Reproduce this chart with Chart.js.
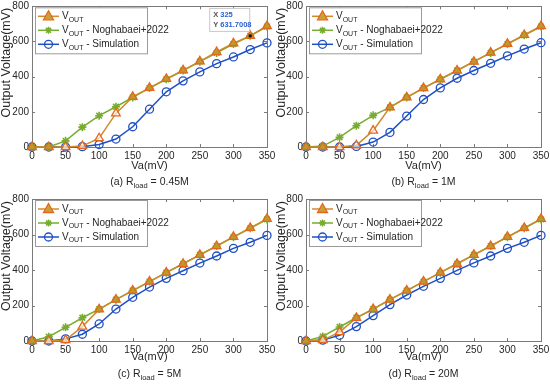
<!DOCTYPE html>
<html>
<head>
<meta charset="utf-8">
<script src="https://cdn.jsdelivr.net/npm/chart.js@4.4.1/dist/chart.umd.min.js"></script>
<style>
  body { margin: 0; background: #fff; }
  #wrap { position: relative; width: 550px; height: 385px; overflow: hidden; }
  canvas { position: absolute; }
</style>
</head>
<body>
<div id="wrap">
  <canvas id="pa" width="275" height="190" style="left:0;top:0"></canvas>
  <canvas id="pb" width="275" height="190" style="left:275px;top:0"></canvas>
  <canvas id="pc" width="275" height="195" style="left:0;top:190px"></canvas>
  <canvas id="pd" width="275" height="195" style="left:275px;top:190px"></canvas>
</div>
<script>
// input voltage Va (mV), shared by all four panels
const va = [0, 25, 50, 75, 100, 125, 150, 175, 200, 225, 250, 275, 300, 325, 350];
const xTicks = [0, 50, 100, 150, 200, 250, 300, 350];
const yTicks = [0, 200, 400, 600, 800];

// (a) Rload = 0.45M
const voutA = [0, 0, 0, 5, 50, 191, 285, 336, 387, 436, 487, 540, 590, 631.7008, 688];
const nogA  = [0, 0, 35, 113, 178, 229, 282, 335, 385, 435, 485, 535, 585, 632, 685];
const simA  = [0, 0, 0, 2, 14, 45, 115, 215, 314, 376, 427, 474, 512, 554, 592];
// (b) Rload = 1M
const voutB = [0, 0, 0, 10, 93, 225, 282, 335, 385, 435, 485, 537, 587, 637, 688];
const nogB  = [0, 5, 55, 121, 180, 225, 282, 335, 385, 435, 485, 535, 585, 635, 685];
const simB  = [0, 0, 0, 3, 28, 83, 176, 270, 336, 391, 435, 476, 518, 557, 593];
// (c) Rload = 5M
const voutC = [0, 0, 5, 81, 178, 233, 284, 335, 385, 435, 485, 535, 587, 637, 688];
const nogC  = [0, 24, 77, 131, 180, 233, 284, 335, 385, 435, 485, 535, 585, 635, 685];
const simC  = [0, 0, 12, 38, 96, 180, 246, 304, 353, 396, 439, 479, 522, 556, 595];
// (d) Rload = 20M
const voutD = [0, 5, 50, 130, 180, 233, 284, 335, 385, 435, 485, 535, 587, 637, 688];
const nogD  = [0, 26, 79, 131, 180, 233, 284, 335, 385, 435, 485, 535, 585, 635, 685];
const simD  = [0, 5, 32, 81, 143, 205, 259, 308, 353, 398, 440, 479, 522, 556, 595];

const FONT = "'Liberation Sans', Arial, sans-serif";
const TXT = '#262626';
const C_VOUT = '#d08a2c', C_TRI = '#e3671c';
const C_NOG = '#77ac30';
const C_SIM = '#1f4fc4';

function pts(ys) { return va.map((x, i) => ({ x: x, y: ys[i] })); }

function drawMarker(ctx, kind, x, y, fill) {
  ctx.save();
  ctx.lineWidth = 1.3;
  if (kind === 'tri') {
    ctx.beginPath();
    ctx.moveTo(x, y - 5.5); ctx.lineTo(x + 5, y + 3.5); ctx.lineTo(x - 5, y + 3.5); ctx.closePath();
    if (fill) { ctx.fillStyle = fill; ctx.fill(); }
    ctx.strokeStyle = C_TRI; ctx.stroke();
  } else if (kind === 'star') {
    ctx.strokeStyle = C_NOG; ctx.lineWidth = 1.6;
    ctx.beginPath();
    for (let k = 0; k < 4; k++) {
      const a = k * Math.PI / 4;
      ctx.moveTo(x - 3.5 * Math.cos(a), y - 3.5 * Math.sin(a));
      ctx.lineTo(x + 3.5 * Math.cos(a), y + 3.5 * Math.sin(a));
    }
    ctx.stroke();
  } else {
    ctx.strokeStyle = C_SIM;
    ctx.beginPath(); ctx.arc(x, y, 4, 0, Math.PI * 2); ctx.stroke();
  }
  ctx.restore();
}

// text with a subscript part: parts = [[text, isSub], ...]
function subWidth(ctx, parts) {
  let w = 0;
  parts.forEach(p => { ctx.font = (p[1] ? '7.5px ' : '10.5px ') + FONT; w += ctx.measureText(p[0]).width; });
  return w;
}
function drawSub(ctx, parts, x, y) {
  ctx.textAlign = 'left'; ctx.textBaseline = 'middle';
  parts.forEach(p => {
    ctx.font = (p[1] ? '7.5px ' : '10.5px ') + FONT;
    ctx.fillText(p[0], x, p[1] ? y + 3.5 : y);
    x += ctx.measureText(p[0]).width;
  });
}

const matlabLook = {
  id: 'matlabLook',
  beforeDatasetsDraw(chart) {
    const { ctx, chartArea: a, scales } = chart;
    ctx.save();
    ctx.strokeStyle = '#7a7a7a'; ctx.lineWidth = 1;
    ctx.strokeRect(Math.round(a.left) + 0.5, Math.round(a.top) + 0.5, Math.round(a.right - a.left), Math.round(a.bottom - a.top));
    ctx.beginPath();
    xTicks.forEach(v => {
      const px = Math.round(scales.x.getPixelForValue(v)) + 0.5;
      ctx.moveTo(px, a.bottom); ctx.lineTo(px, a.bottom - 3);
      ctx.moveTo(px, a.top); ctx.lineTo(px, a.top + 3);
    });
    yTicks.forEach(v => {
      const py = Math.round(scales.y.getPixelForValue(v)) + 0.5;
      ctx.moveTo(a.left, py); ctx.lineTo(a.left + 3, py);
      ctx.moveTo(a.right, py); ctx.lineTo(a.right - 3, py);
    });
    ctx.stroke();
    ctx.restore();
  },
  afterDraw(chart) {
    const { ctx, chartArea: a } = chart;
    const o = chart.options.plugins.matlabLook;
    ctx.save();
    ctx.fillStyle = TXT;
    // axis titles
    ctx.font = '11px ' + FONT; ctx.textAlign = 'center'; ctx.textBaseline = 'middle';
    ctx.fillText('Va(mV)', (a.left + a.right) / 2, a.bottom + o.xTitleDy);
    ctx.save();
    ctx.translate(7, (a.top + a.bottom) / 2 - 14);
    ctx.rotate(-Math.PI / 2);
    ctx.font = '12.5px ' + FONT;
    ctx.fillText('Output Voltage(mV)', 0, 0);
    ctx.restore();
    // panel caption
    const cap = [[o.tag + ' R', false], ['load', true], [' = ' + o.load, false]];
    const w = subWidth(ctx, cap);
    drawSub(ctx, cap, (a.left + a.right) / 2 - w / 2, a.bottom + o.capDy);

    // legend
    const lx = a.left + 3, ly = a.top + 1, lw = 112, lh = 46;
    ctx.fillStyle = '#fff';
    ctx.fillRect(lx, ly, lw, lh);
    ctx.strokeStyle = '#9a9a9a'; ctx.lineWidth = 1;
    ctx.strokeRect(lx + 0.5, ly + 0.5, lw, lh);
    const items = [
      { kind: 'tri', color: C_VOUT, parts: [['V', false], ['OUT', true]] },
      { kind: 'star', color: C_NOG, parts: [['V', false], ['OUT', true], [' - Noghabaei+2022', false]] },
      { kind: 'sim', color: C_SIM, parts: [['V', false], ['OUT', true], [' - Simulation', false]] }
    ];
    items.forEach((it, i) => {
      const y = ly + 9 + i * 14;
      ctx.strokeStyle = it.color; ctx.lineWidth = 1.5;
      ctx.beginPath(); ctx.moveTo(lx + 3, y); ctx.lineTo(lx + 24, y); ctx.stroke();
      drawMarker(ctx, it.kind, lx + 13.5, y, it.kind === 'tri' ? '#c9a03a' : null);
      ctx.fillStyle = TXT;
      let x = lx + 27;
      it.parts.forEach(p => {
        ctx.font = (p[1] ? '7px ' : '10px ') + FONT;
        ctx.textAlign = 'left'; ctx.textBaseline = 'middle';
        ctx.fillText(p[0], x, p[1] ? y + 3.5 : y);
        x += ctx.measureText(p[0]).width;
      });
    });

    // data tip on panel (a)
    if (o.tipIndex !== undefined) {
      const el = chart.getDatasetMeta(0).data[o.tipIndex];
      const val = chart.data.datasets[0].data[o.tipIndex];
      const bx = el.x - 41, by = el.y - 28;
      ctx.fillStyle = 'rgba(255,255,255,0.92)';
      ctx.fillRect(bx, by, 40, 23);
      ctx.strokeStyle = '#c8c8c8'; ctx.lineWidth = 1;
      ctx.strokeRect(bx + 0.5, by + 0.5, 40, 23);
      ctx.font = 'bold 7.5px ' + FONT; ctx.textAlign = 'left'; ctx.textBaseline = 'middle';
      ctx.fillStyle = '#555'; ctx.fillText('X', bx + 4, by + 7); ctx.fillText('Y', bx + 4, by + 17);
      ctx.fillStyle = '#2a62d6';
      ctx.fillText(String(val.x), bx + 11, by + 7);
      ctx.fillText(String(val.y), bx + 11, by + 17);
      ctx.fillStyle = '#111';
      ctx.fillRect(el.x - 1.5, el.y - 1.5, 3, 3);
    }
    ctx.restore();
  }
};

function makePanel(id, vout, nog, sim, opt) {
  new Chart(document.getElementById(id).getContext('2d'), {
    type: 'line',
    data: {
      datasets: [
        {
          label: 'VOUT', data: pts(vout), borderColor: C_VOUT, borderWidth: 1.5,
          pointStyle: 'triangle', pointRadius: 5, pointBorderColor: C_TRI, pointBorderWidth: 1.3,
          // triangles look filled where they sit on the green series, hollow elsewhere
          pointBackgroundColor: ctx => Math.abs(vout[ctx.dataIndex] - nog[ctx.dataIndex]) < 12 ? 'rgba(190,155,45,0.85)' : 'rgba(255,255,255,0.6)',
          clip: false, tension: 0
        },
        {
          label: 'VOUT - Noghabaei+2022', data: pts(nog), borderColor: C_NOG, borderWidth: 1.5,
          pointStyle: 'star', pointRadius: 4, pointBorderColor: C_NOG, pointBorderWidth: 1.6,
          clip: false, tension: 0
        },
        {
          label: 'VOUT - Simulation', data: pts(sim), borderColor: C_SIM, borderWidth: 1.5,
          pointStyle: 'circle', pointRadius: 4, pointBorderColor: C_SIM, pointBorderWidth: 1.3,
          pointBackgroundColor: 'rgba(255,255,255,0)', clip: false, tension: 0
        }
      ]
    },
    options: {
      responsive: false, animation: false, devicePixelRatio: 1,
      layout: { padding: { top: opt.top, right: opt.right, left: 0, bottom: 0 } },
      plugins: {
        legend: { display: false }, tooltip: { enabled: false },
        matlabLook: opt
      },
      scales: {
        x: {
          type: 'linear', min: 0, max: 350,
          grid: { display: false, drawTicks: false }, border: { display: false },
          ticks: { stepSize: 50, maxRotation: 0, autoSkip: false, padding: 3, color: TXT, font: { family: FONT, size: 10 } },
          afterFit: s => { s.height = opt.xh; s.paddingLeft = 0; s.paddingRight = 0; }
        },
        y: {
          min: 0, max: 800,
          grid: { display: false, drawTicks: false }, border: { display: false },
          ticks: { stepSize: 200, padding: 3, color: TXT, font: { family: FONT, size: 10 } },
          afterFit: s => { s.width = opt.yw; s.paddingTop = 0; s.paddingBottom = 0; }
        }
      }
    },
    plugins: [matlabLook]
  });
}

makePanel('pa', voutA, nogA, simA, { tag: '(a)', load: '0.45M', top: 6, right: 8, xh: 43, yw: 32, xTitleDy: 19, capDy: 35, tipIndex: 13 });
makePanel('pb', voutB, nogB, simB, { tag: '(b)', load: '1M', top: 6, right: 9, xh: 43, yw: 31, xTitleDy: 19, capDy: 35 });
makePanel('pc', voutC, nogC, simC, { tag: '(c)', load: '5M', top: 9, right: 8, xh: 44, yw: 32, xTitleDy: 16, capDy: 33 });
makePanel('pd', voutD, nogD, simD, { tag: '(d)', load: '20M', top: 9, right: 9, xh: 44, yw: 31, xTitleDy: 16, capDy: 33 });
</script>
</body>
</html>
